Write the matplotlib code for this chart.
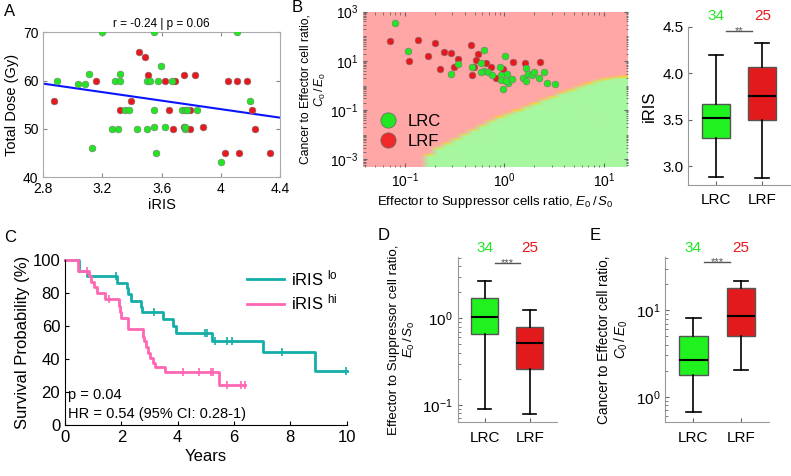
import numpy as np
import matplotlib
matplotlib.use('Agg')
import matplotlib.pyplot as plt
from matplotlib import ticker
from matplotlib.colors import LinearSegmentedColormap
from matplotlib.lines import Line2D

plt.rcParams['font.family'] = ['Liberation Sans', 'DejaVu Sans']
plt.rcParams['mathtext.fontset'] = 'custom'
plt.rcParams['mathtext.rm'] = 'Liberation Sans'
plt.rcParams['mathtext.it'] = 'Liberation Sans:italic'

W, H = 791, 476
GREEN = '#22e622'
RED = '#e8181c'
BOX_GREEN = '#1ff21f'
BOX_RED = '#e31a1c'
TEAL = '#14aea8'
PINK = '#ff66b3'

# ---- panel A: iRIS vs total dose ----
lrc_iris = [2.895, 3.20, 3.546, 4.112, 3.596, 3.035, 3.082, 3.110, 3.316, 3.284,
            3.316, 3.50, 3.52, 3.573, 3.67, 4.196, 3.355, 3.378, 3.546, 3.739,
            3.755, 3.77, 3.84, 3.266, 3.302, 3.43, 3.50, 3.55, 3.62, 3.755,
            3.128, 3.56, 4.0, 3.76]
lrc_dose = [60, 70, 70, 70, 63, 59.4, 59.4, 61.3, 61.3, 60,
            60, 60, 60, 60, 60, 55.8, 54, 54, 54, 54,
            54, 54, 54, 50, 50, 50, 50, 50.4, 50.4, 50,
            46, 45, 43.2, 50.4]
lrf_iris = [2.872, 3.153, 3.45, 3.49, 3.51, 3.62, 3.693, 3.75, 3.825, 4.05,
            4.107, 4.175, 3.39, 3.32, 3.648, 3.795, 4.21, 3.68, 3.75, 3.79,
            3.877, 4.234, 4.03, 4.12, 4.33]
lrf_dose = [55.8, 60, 66, 64.8, 61.2, 60, 60, 61.2, 61.2, 60,
            60, 60, 55.8, 54, 54, 54, 54, 50, 50.4, 50,
            50.4, 50, 45, 45, 45]
fit_slope, fit_intercept = -4.4, 71.7

# ---- panel B: ratios (log10) ----
lrc_log_es = [-1.10, -0.973, -0.464, -0.535, -0.203, -0.33, -0.24, -0.206, -0.17, -0.24,
              -0.126, -0.04, 0.005, -0.03, -0.03, 0.022, 0.032, 0.072, -0.012, 0.02,
              0.213, 0.19, 0.24, 0.216, 0.273, 0.30, 0.343, 0.40, 0.427, 0.51]
lrc_log_ce = [2.55, 1.42, 0.88, 0.46, 1.46, 0.77, 0.93, 0.58, 0.55, 0.55,
              0.42, 0.76, 1.20, 0.42, 0.23, 0.46, 0.12, 0.27, -0.15, 0.20,
              0.72, 0.32, 0.46, 0.20, 0.44, 0.53, 0.30, 0.54, 0.12, 0.08]
lrf_log_es = [-1.15, -0.872, -0.96, -0.70, -0.77, -0.605, -0.54, -0.47, -0.65, -0.51,
              -0.34, -0.27, -0.29, -0.31, -0.33, -0.19, -0.136, -0.09, 0.082, -0.018,
              0.206, 0.354]
lrf_log_ce = [1.80, 1.85, 1.01, 1.72, 1.19, 1.37, 1.31, 1.09, 0.69, 0.76,
              1.66, 1.27, 1.04, 0.74, 0.42, 0.91, 0.74, 0.32, 0.95, 0.69,
              0.91, 0.96]
# outcome boundary of the simulated map (log10 E0/S0 -> log10 C0/E0)
bnd_log_es = [-1.42, -0.86, -0.76, -0.58, -0.38, -0.11, 0.16, 0.42, 0.69, 0.86, 1.0, 1.24]
bnd_log_ce = [-6.0, -3.5, -2.68, -2.34, -1.93, -1.39, -0.99, -0.58, -0.18, 0.05, 0.25, 0.36]

# ---- box plots: whislo, q1, med, q3, whishi ----
groups = ['LRC', 'LRF']
counts = [34, 25]
iris_stats = [[2.89, 3.30, 3.515, 3.67, 4.20], [2.87, 3.50, 3.755, 4.065, 4.33]]
es_stats = [[0.089, 0.66, 1.04, 1.70, 2.72], [0.079, 0.26, 0.52, 0.79, 1.25]]
ce_stats = [[0.67, 1.77, 2.65, 5.06, 8.2], [2.04, 5.0, 8.45, 17.9, 21.9]]

# ---- panel C: Kaplan-Meier ----
lo_time = [0, 0.50, 0.77, 1.86, 2.19, 2.25, 2.34, 2.70, 2.74, 3.47, 3.83, 3.94, 5.21, 7.04, 8.87, 10.0]
lo_surv = [100, 93.5, 90.3, 86.3, 82.8, 79.2, 75.4, 71.7, 68.3, 64.2, 60.0, 56.0, 51.1, 44.0, 32.9, 32.9]
lo_censor = [1.81, 3.17, 4.97, 5.03, 5.32, 5.74, 5.92, 7.69, 9.97]
hi_time = [0, 0.45, 0.86, 0.93, 1.04, 1.15, 1.42, 1.93, 1.97, 2.00, 2.25, 2.76, 2.81, 2.88,
           2.96, 3.02, 3.11, 3.19, 3.55, 5.47, 6.39]
hi_surv = [100, 93.5, 90.3, 86.5, 83.4, 79.8, 76.2, 72.1, 68.7, 64.6, 58.0, 53.2, 51.1, 47.5,
           43.4, 40.4, 37.4, 35.4, 31.9, 24.2, 24.2]
hi_censor = [0.79, 1.57, 4.20, 4.77, 5.18, 5.24, 5.74, 6.24, 6.39]


def px_axes(fig, left, top, right, bottom, **kw):
    return fig.add_axes([left / W, 1 - bottom / H, (right - left) / W, (bottom - top) / H], **kw)


def box_panel(ax, stats, ylim, log=False):
    bstats = []
    for name, s in zip(groups, stats):
        bstats.append(dict(label=name, whislo=s[0], q1=s[1], med=s[2], q3=s[3], whishi=s[4], fliers=[]))
    bp = ax.bxp(bstats, positions=[1, 2], widths=0.6, patch_artist=True, showfliers=False,
                boxprops=dict(edgecolor='#555555', linewidth=1.0),
                medianprops=dict(color='black', linewidth=1.5),
                whiskerprops=dict(color='black', linewidth=1.2),
                capprops=dict(color='black', linewidth=1.2))
    for patch, c in zip(bp['boxes'], [BOX_GREEN, BOX_RED]):
        patch.set_facecolor(c)
    if log:
        ax.set_yscale('log')
    ax.set_ylim(*ylim)
    ax.set_xlim(0.4, 2.6)
    for side in ['top', 'right']:
        ax.spines[side].set_visible(False)
    for side in ['left', 'bottom']:
        ax.spines[side].set_color('#999999')
    ax.tick_params(direction='in', length=3, color='#666666', labelsize=11, which='both')
    ax.tick_params(which='minor', length=2)
    ax.tick_params(axis='x', labelsize=11, pad=6)


def box_annot(ax, y_count, y_bar, stars):
    for x, n, c in zip([1, 2], counts, [GREEN, RED]):
        ax.text(x, y_count, str(n), color=c, ha='center', va='center', fontsize=11, clip_on=False)
    ax.plot([1.22, 1.78], [y_bar, y_bar], color='#555555', lw=1, clip_on=False)
    ax.text(1.5, y_bar, stars, color='#555555', ha='center', va='center', fontsize=8, clip_on=False)


fig = plt.figure(figsize=(W / 100, H / 100), dpi=100)

# ---------- A ----------
axA = px_axes(fig, 43.3, 32.3, 280, 177.3)
axA.scatter(lrf_iris, lrf_dose, s=24, c=RED, edgecolors='#777777', linewidths=0.4, zorder=3)
axA.scatter(lrc_iris, lrc_dose, s=24, c=GREEN, edgecolors='#777777', linewidths=0.4, zorder=3)
xs = np.array([2.8, 4.4])
axA.plot(xs, fit_slope * xs + fit_intercept, color='#0a14ff', lw=1.5, zorder=2)
axA.set_xlim(2.8, 4.4)
axA.set_ylim(40, 70)
axA.set_xticks([2.8, 3.2, 3.6, 4.0, 4.4])
axA.set_xticklabels(['2.8', '3.2', '3.6', '4', '4.4'])
axA.set_yticks([40, 50, 60, 70])
axA.tick_params(direction='in', top=True, right=True, length=3, labelsize=10, color='#888888')
for sp in axA.spines.values():
    sp.set_color('#aaaaaa')
axA.set_title('r = -0.24 | p = 0.06', fontsize=8.5, pad=4)
axA.set_xlabel('iRIS', fontsize=10.5, labelpad=1)
axA.set_ylabel('Total Dose (Gy)', fontsize=10.5, labelpad=3)

# ---------- B map ----------
b_rect = (363.3, 11.7, 627.7, 166.7)
lx0, lx1, ly0, ly1 = -1.42, 1.24, -3.3, 3.0
axBg = px_axes(fig, *b_rect)
gx = np.linspace(lx0, lx1, 30)
gy = np.linspace(ly0, ly1, 70)
GX, GY = np.meshgrid(gx, gy)
dist = (GY - np.interp(GX, bnd_log_es, bnd_log_ce)) / 0.32
val = np.clip(0.5 + dist, 0, 1)
cmap = LinearSegmentedColormap.from_list('outcome', [(0, '#a6f7a0'), (0.3, '#a6f7a0'), (0.5, '#ffd21a'),
                                                     (0.7, '#ffa6a6'), (1, '#ffa6a6')])
axBg.imshow(val, extent=[lx0, lx1, ly0, ly1], origin='lower', aspect='auto', cmap=cmap,
            interpolation='bilinear', vmin=0, vmax=1)
axBg.axis('off')

axB = px_axes(fig, *b_rect)
axB.set_facecolor('none')
axB.scatter(10 ** np.array(lrf_log_es), 10 ** np.array(lrf_log_ce), s=24, c=RED,
            edgecolors='#777777', linewidths=0.4, zorder=3)
axB.scatter(10 ** np.array(lrc_log_es), 10 ** np.array(lrc_log_ce), s=24, c=GREEN,
            edgecolors='#777777', linewidths=0.4, zorder=3)
axB.set_xscale('log')
axB.set_yscale('log')
axB.set_xlim(10 ** lx0, 10 ** lx1)
axB.set_ylim(10 ** ly0, 10 ** ly1)
axB.yaxis.set_major_locator(ticker.FixedLocator([1e-3, 1e-1, 1e1, 1e3]))
axB.xaxis.set_major_locator(ticker.FixedLocator([1e-1, 1e0, 1e1]))
axB.xaxis.set_minor_locator(ticker.LogLocator(base=10, subs=np.arange(2, 10), numticks=50))
axB.yaxis.set_minor_locator(ticker.LogLocator(base=10, subs=np.arange(1, 10), numticks=50))
axB.yaxis.set_minor_formatter(ticker.NullFormatter())
axB.xaxis.set_minor_formatter(ticker.NullFormatter())
axB.tick_params(direction='in', top=True, right=True, length=3, labelsize=10, which='both', color='#666666')
axB.tick_params(which='minor', length=1.8)
for sp in axB.spines.values():
    sp.set_visible(False)
axB.set_xlabel('Effector to Suppressor cells ratio, $\\mathit{E_0}\\,/\\,\\mathit{S_0}$', fontsize=9.5, labelpad=3)
axB.set_ylabel('Cancer to Effector cell ratio,\n$\\mathit{C_0}\\,/\\,\\mathit{E_0}$', fontsize=8.7,
               labelpad=2, linespacing=1.1)
handles = [Line2D([], [], ls='none', marker='o', ms=11, mfc=GREEN, mec='#666666', mew=0.5),
           Line2D([], [], ls='none', marker='o', ms=11, mfc='#f0282a', mec='#666666', mew=0.5)]
axB.legend(handles, ['LRC', 'LRF'], loc='lower left', bbox_to_anchor=(-0.02, 0.03), frameon=False,
           fontsize=12, handletextpad=0.2, labelspacing=0.3, borderpad=0.3)

# ---------- B box (iRIS) ----------
axBb = px_axes(fig, 688.3, 26.7, 790, 185)
box_panel(axBb, iris_stats, (2.8, 4.5))
axBb.set_yticks([3.0, 3.5, 4.0, 4.5])
axBb.yaxis.set_major_formatter(ticker.FormatStrFormatter('%.1f'))
axBb.set_ylabel('iRIS', fontsize=12, labelpad=4)
box_annot(axBb, 4.615, 4.455, '**')

# ---------- C ----------
axC = px_axes(fig, 65, 260, 346.7, 425)
for t, s, cen, col, lab in [(lo_time, lo_surv, lo_censor, TEAL, 'iRIS $^{\\mathregular{lo}}$'),
                            (hi_time, hi_surv, hi_censor, PINK, 'iRIS $^{\\mathregular{hi}}$')]:
    axC.step(t, s, where='post', color=col, lw=2, label=lab, clip_on=False)
    idx = np.searchsorted(t, cen, side='right') - 1
    axC.plot(cen, np.array(s)[idx], ls='none', marker='|', ms=6, mew=1.2, color=col, clip_on=False)
axC.set_xlim(0, 10)
axC.set_ylim(0, 100)
axC.set_xticks(range(0, 11, 2))
axC.set_yticks(range(0, 101, 20))
for side in ['top', 'right']:
    axC.spines[side].set_visible(False)
axC.tick_params(direction='in', length=3, labelsize=12)
axC.set_xlabel('Years', fontsize=12, labelpad=3)
axC.set_ylabel('Survival Probability (%)', fontsize=12, labelpad=2)
axC.text(0.12, 18, 'p = 0.04', fontsize=10.5, va='center')
axC.text(0.12, 6.5, 'HR = 0.54 (95% CI: 0.28-1)', fontsize=10.5, va='center')
axC.legend(loc='upper right', bbox_to_anchor=(1.02, 1.04), frameon=False, fontsize=12,
           handlelength=2.2, handletextpad=0.4, labelspacing=0.25)

# ---------- D ----------
axD = px_axes(fig, 457.7, 256.7, 556.7, 422.3)
box_panel(axD, es_stats, (10 ** -1.2, 10 ** 0.71), log=True)
axD.yaxis.set_minor_formatter(ticker.NullFormatter())
axD.set_ylabel('Effector to Suppressor cell ratio,\n$\\mathit{E_0}\\,/\\,\\mathit{S_0}$', fontsize=9.6,
               labelpad=4, linespacing=1.1)
box_annot(axD, 10 ** 0.807, 10 ** 0.634, '***')

# ---------- E ----------
axE = px_axes(fig, 665, 257.3, 769.3, 422.3)
box_panel(axE, ce_stats, (10 ** -0.295, 10 ** 1.61), log=True)
axE.yaxis.set_minor_formatter(ticker.NullFormatter())
axE.set_ylabel('Cancer to Effector cell ratio,\n$\\mathit{C_0}\\,/\\,\\mathit{E_0}$', fontsize=9.8,
               labelpad=4, linespacing=1.1)
box_annot(axE, 10 ** 1.72, 10 ** 1.55, '***')

# panel letters
for letter, x, y in [('A', 4, 11), ('B', 292, 8), ('C', 4, 238), ('D', 378, 236), ('E', 590, 236)]:
    fig.text(x / W, 1 - y / H, letter, fontsize=12, va='center', ha='left')

fig.savefig('out.png', dpi=100)
